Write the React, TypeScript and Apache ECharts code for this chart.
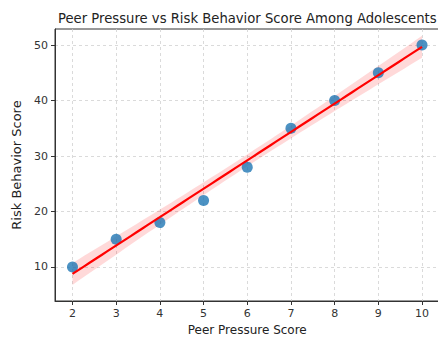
import React, { useEffect, useRef } from "react";
import * as echarts from "echarts";

const titleText = "Peer Pressure vs Risk Behavior Score Among Adolescents";
const xLabel = "Peer Pressure Score";
const yLabel = "Risk Behavior Score";
const peerPressure = [2, 3, 4, 5, 6, 7, 8, 9, 10];
const riskScore = [10, 15, 18, 22, 28, 35, 40, 45, 50];
const xTicks = [2, 3, 4, 5, 6, 7, 8, 9, 10];
const yTicks = [10, 20, 30, 40, 50];

function regression(xs: number[], ys: number[]) {
  const n = xs.length;
  const mx = xs.reduce((a, b) => a + b, 0) / n;
  const my = ys.reduce((a, b) => a + b, 0) / n;
  let sxx = 0, sxy = 0;
  for (let i = 0; i < n; i++) {
    sxx += (xs[i] - mx) ** 2;
    sxy += (xs[i] - mx) * (ys[i] - my);
  }
  const slope = sxy / sxx;
  const intercept = my - slope * mx;
  let sse = 0;
  for (let i = 0; i < n; i++) sse += (ys[i] - (intercept + slope * xs[i])) ** 2;
  const s = Math.sqrt(sse / (n - 2));
  return { slope, intercept, s, mx, sxx, n };
}

export default function App() {
  const ref = useRef<HTMLDivElement>(null);
  useEffect(() => {
    if (!ref.current) return;
    const chart = echarts.init(ref.current, undefined, { renderer: "svg" });
    const r = regression(peerPressure, riskScore);
    const t = 2.365;
    const xMin = Math.min(...peerPressure);
    const xMax = Math.max(...peerPressure);
    const steps = 60;
    const lower: number[][] = [];
    const upper: number[][] = [];
    const fit: number[][] = [];
    for (let i = 0; i <= steps; i++) {
      const x = xMin + ((xMax - xMin) * i) / steps;
      const y = r.intercept + r.slope * x;
      const se = r.s * Math.sqrt(1 / r.n + (x - r.mx) ** 2 / r.sxx) * 1.1;
      fit.push([x, y]);
      lower.push([x, y - t * se]);
      upper.push([x, y + t * se]);
    }
    const font = "DejaVu Sans";
    chart.setOption({
      animation: false,
      backgroundColor: "#ffffff",
      textStyle: { fontFamily: font },
      title: {
        text: titleText,
        left: 53,
        top: 7,
        textStyle: { fontFamily: font, fontSize: 13.2, fontWeight: "normal", color: "#222" },
      },
      grid: {
        left: 55,
        top: 29,
        width: 384.5,
        height: 272,
        outerBoundsMode: "none",
        containLabel: false,
        show: true,
        borderColor: "#333",
        borderWidth: 1,
        backgroundColor: "transparent",
      },
      xAxis: {
        type: "value",
        min: 1.6,
        max: 10.4,
        name: xLabel,
        nameLocation: "middle",
        nameGap: 18,
        nameTextStyle: { fontFamily: font, fontSize: 12, color: "#222" },
        axisLine: { show: true, lineStyle: { color: "#333" } },
        axisTick: { show: true, length: 4, customValues: xTicks, lineStyle: { color: "#333" } },
        axisLabel: { customValues: xTicks, fontFamily: font, fontSize: 11, color: "#333", margin: 7 },
        splitLine: { show: true, lineStyle: { color: "#d0d0d0", type: [3, 3], width: 0.8 } },
      },
      yAxis: {
        type: "value",
        min: 3.87,
        max: 52.9,
        name: yLabel,
        nameLocation: "middle",
        nameGap: 32,
        nameTextStyle: { fontFamily: font, fontSize: 13, color: "#222" },
        axisLine: { show: true, lineStyle: { color: "#333" } },
        axisTick: { show: true, length: 4, customValues: yTicks, lineStyle: { color: "#333" } },
        axisLabel: { customValues: yTicks, fontFamily: font, fontSize: 11, color: "#333", margin: 7 },
        splitLine: { show: true, lineStyle: { color: "#d0d0d0", type: [3, 3], width: 0.8 } },
      },
      series: [
        {
          type: "custom",
          z: 1,
          silent: true,
          data: [[0, 0]],
          renderItem: (_p: any, api: any) => {
            const pts = upper.map((d) => api.coord(d)).concat(lower.slice().reverse().map((d) => api.coord(d)));
            return {
              type: "polygon",
              shape: { points: pts },
              style: { fill: "rgba(255,0,0,0.15)", stroke: "none" },
            };
          },
        },
        {
          type: "scatter",
          z: 2,
          symbolSize: 11,
          itemStyle: { color: "#1f77b4", opacity: 0.8 },
          data: peerPressure.map((x, i) => [x, riskScore[i]]),
        },
        {
          type: "line",
          z: 3,
          showSymbol: false,
          symbol: "none",
          lineStyle: { color: "#ff0000", width: 2.2 },
          data: fit,
        },
      ],
    });
    return () => chart.dispose();
  }, []);
  return (
    <div
      ref={ref}
      style={{ position: "fixed", left: 0, top: 0, width: 438, height: 337 }}
    />
  );
}
